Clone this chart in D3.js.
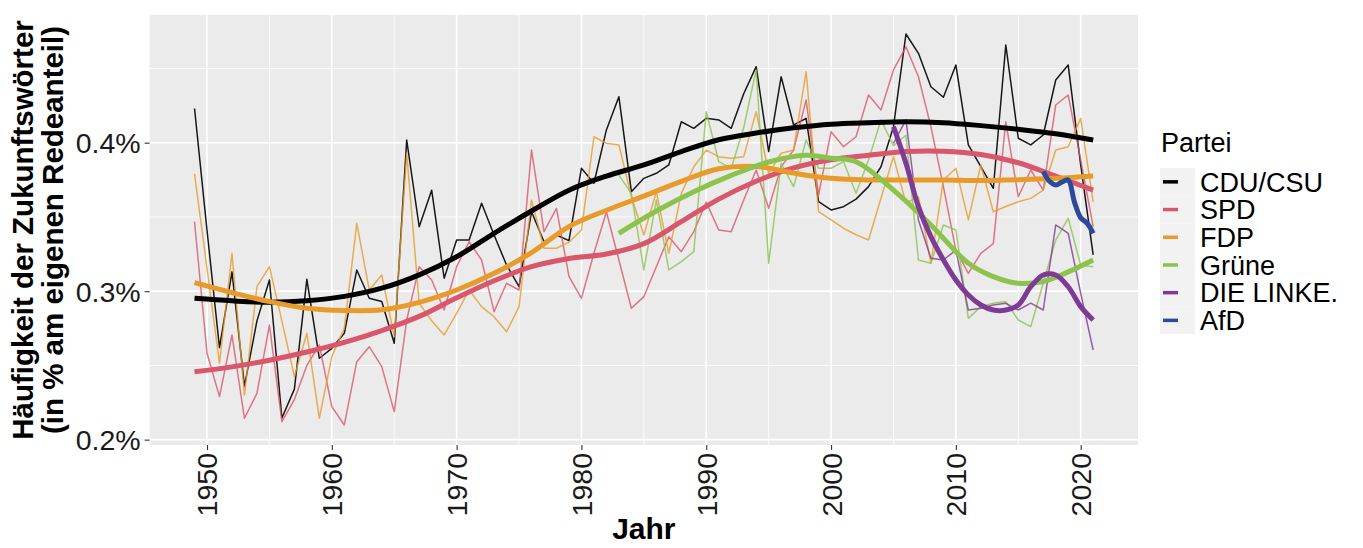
<!DOCTYPE html>
<html><head><meta charset="utf-8">
<script src="https://cdn.jsdelivr.net/npm/d3@7"></script>
<style>
body{margin:0;background:#fff}
svg{display:block}
text{font-family:"Liberation Sans",Arial,Helvetica,sans-serif}
</style>
</head><body>
<svg id="chart" width="1363" height="548"></svg>
<script>
// ---------- DATA ----------
const parties = ["CDU/CSU","SPD","FDP","Grüne","DIE LINKE.","AfD"];
const partyColors = ["#000000","#D9566B","#E89B2A","#8CC34F","#7E3A95","#2C4A9C"];
const startYears = [1949,1949,1949,1983,2005,2017];

const cduValues = [0.423,0.341,0.262,0.313,0.236,0.280,0.3075,0.2146,0.234,0.308,0.2548,0.2615,0.2716,0.3143,0.2952,0.293,0.2649,0.4018,0.3434,0.368,
0.3087,0.3345,0.3345,0.3592,0.3378,0.3176,0.303,0.3535,0.3333,0.3378,0.334,0.3828,0.3727,0.4086,0.431,0.367,0.376,0.3794,0.385,0.4141,
0.4097,0.4164,0.4153,0.4097,0.433,0.4512,0.394,0.4444,0.4119,0.4164,0.3603,0.3547,0.3569,0.362,0.3704,0.3838,0.4108,0.4732,0.4602,0.4377,
0.4306,0.4523,0.3985,0.3838,0.3693,0.4658,0.403,0.3985,0.4052,0.4422,0.4523,0.385,0.3244];
const spdValues = [0.3468,0.2582,0.229,0.2705,0.2144,0.2312,0.2772,0.2121,0.227,0.250,0.2638,0.2222,0.2099,0.2525,0.2626,0.2492,0.2189,0.2806,0.3165,0.3075,
0.2873,0.3165,0.3333,0.321,0.2862,0.3053,0.3008,0.3951,0.3401,0.3558,0.310,0.2952,0.3255,0.3535,0.321,0.2885,0.2963,0.3165,0.3367,0.3266,
0.3401,0.360,0.3412,0.3401,0.3614,0.3816,0.3558,0.3839,0.3951,0.4288,0.3648,0.4074,0.3973,0.404,0.4321,0.422,0.449,0.4646,0.4444,0.4108,
0.3704,0.3277,0.312,0.3255,0.332,0.4141,0.3636,0.3816,0.3681,0.4254,0.4321,0.3884,0.3434];
const fdpValues = [0.379,0.3154,0.2514,0.3255,0.230,0.303,0.3165,0.280,0.2424,0.2716,0.2144,0.2559,0.275,0.3457,0.3008,0.3109,0.2694,0.3929,0.2919,0.280,
0.2705,0.2851,0.3008,0.2896,0.2828,0.2727,0.2896,0.3614,0.3289,0.3289,0.333,0.3412,0.404,0.3996,0.3985,0.3636,0.3378,0.367,0.3255,0.3659,
0.3838,0.395,0.3906,0.3895,0.3906,0.4209,0.3794,0.3929,0.3951,0.4478,0.3535,0.348,0.3424,0.338,0.3345,0.3626,0.3906,0.3592,0.3636,0.3188,
0.3749,0.3828,0.348,0.385,0.3535,0.357,0.3602,0.3625,0.3681,0.3951,0.3973,0.4164,0.3602];
const grueneValues = [0.3782,0.3659,0.3143,0.3614,0.3143,0.3199,0.3266,0.4209,0.3872,0.3828,0.410,0.449,0.3188,0.3861,0.3704,0.4018,0.3828,0.3828,0.3872,0.366,
0.3884,0.4153,0.398,0.405,0.321,0.3188,0.3446,0.3412,0.2817,0.2896,0.2918,0.293,0.2806,0.2761,0.3053,0.3345,0.3491,0.3176,0.3165];
const linkeValues = [0.3996,0.4153,0.348,0.3221,0.321,0.3277,0.2873,0.2885,0.2907,0.2918,0.2873,0.2919,0.2873,0.3446,0.339,0.2986,0.2604];
const afdValues = [0.3805,0.3715,0.3749,0.349,0.339];

// smoothed trend lines
const cduSmoothYears = [1949,1952,1955,1958,1961,1964,1967,1970,1973,1976,1979,1982,1985,1988,1991,1994,1997,2000,2003,2006,2009,2012,2015,2018,2021];
const cduSmooth = [0.2952,0.2935,0.2925,0.2935,0.2965,0.302,0.311,0.3232,0.339,0.354,0.368,0.3775,0.385,0.394,0.402,0.4065,0.41,0.4125,0.4135,0.4141,0.4135,0.4115,0.409,0.406,0.4018];
const spdSmoothYears = cduSmoothYears;
const spdSmooth = [0.2458,0.249,0.2535,0.259,0.2655,0.2735,0.283,0.2955,0.307,0.3165,0.322,0.325,0.332,0.3468,0.362,0.374,0.383,0.3885,0.3915,0.394,0.3942,0.392,0.3865,0.3775,0.3681];
const fdpSmoothYears = cduSmoothYears;
const fdpSmooth = [0.3057,0.299,0.293,0.2885,0.287,0.2875,0.2925,0.3008,0.312,0.326,0.3435,0.3545,0.364,0.374,0.3825,0.384,0.3795,0.376,0.3749,0.3749,0.3749,0.3745,0.375,0.376,0.3776];
const grueneSmoothYears = [1983,1986,1989,1992,1995,1998,2000,2002,2005,2008,2011,2013,2015,2017,2019,2021];
const grueneSmooth = [0.339,0.354,0.367,0.378,0.387,0.3915,0.3895,0.3872,0.3681,0.3446,0.3188,0.3098,0.3053,0.3065,0.313,0.321];
const linkeSmoothYears = [2005,2006,2007,2008,2009,2010,2011,2012,2013,2014,2015,2016,2017,2018,2019,2020,2021];
const linkeSmooth = [0.4108,0.3861,0.3569,0.3367,0.3211,0.3075,0.2974,0.2907,0.2873,0.2873,0.2907,0.303,0.3109,0.3109,0.303,0.2896,0.2806];
const afdSmoothYears = [2017,2017.5,2018,2018.5,2019,2019.5,2020,2020.5,2021];
const afdSmooth = [0.3805,0.374,0.3715,0.3735,0.3749,0.360,0.3495,0.346,0.339];

const xTicks = [1950,1960,1970,1980,1990,2000,2010,2020];
const xMinor = [1955,1965,1975,1985,1995,2005,2015];
const yTicks = [0.2,0.3,0.4];
const yMinor = [0.25,0.35,0.45];

// ---------- CHART ----------
const rawSeries = [cduValues,spdValues,fdpValues,grueneValues,linkeValues,afdValues];
const smoothYears = [cduSmoothYears,spdSmoothYears,fdpSmoothYears,grueneSmoothYears,linkeSmoothYears,afdSmoothYears];
const smoothVals = [cduSmooth,spdSmooth,fdpSmooth,grueneSmooth,linkeSmooth,afdSmooth];

const P = {l:149.6, r:1138.1, t:15, b:445};
const svg = d3.select("#chart");
const x = d3.scaleLinear().domain([1945.4, 2024.6]).range([P.l, P.r]);
const y = d3.scaleLinear().domain([0.1964, 0.486]).range([P.b, P.t]);

svg.append("rect").attr("x",P.l).attr("y",P.t).attr("width",P.r-P.l).attr("height",P.b-P.t).attr("fill","#EBEBEB");

const grid = svg.append("g");
grid.selectAll(".ym").data(yMinor).join("line").attr("x1",P.l).attr("x2",P.r)
  .attr("y1",d=>y(d)).attr("y2",d=>y(d)).attr("stroke","#fff").attr("stroke-width",0.8);
grid.selectAll(".xm").data(xMinor).join("line").attr("y1",P.t).attr("y2",P.b)
  .attr("x1",d=>x(d)).attr("x2",d=>x(d)).attr("stroke","#fff").attr("stroke-width",0.8);
grid.selectAll(".yM").data(yTicks).join("line").attr("x1",P.l).attr("x2",P.r)
  .attr("y1",d=>y(d)).attr("y2",d=>y(d)).attr("stroke","#fff").attr("stroke-width",1.6);
grid.selectAll(".xM").data(xTicks).join("line").attr("y1",P.t).attr("y2",P.b)
  .attr("x1",d=>x(d)).attr("x2",d=>x(d)).attr("stroke","#fff").attr("stroke-width",1.6);

const plot = svg.append("g");
const thinLine = d3.line().x(d=>x(d[0])).y(d=>y(d[1]));
const smoothLine = d3.line().x(d=>x(d[0])).y(d=>y(d[1])).curve(d3.curveCatmullRom.alpha(0.5));

rawSeries.forEach((vals,i)=>{
  const pts = vals.map((v,k)=>[startYears[i]+k, v]);
  plot.append("path").attr("d",thinLine(pts)).attr("fill","none")
    .attr("stroke",partyColors[i]).attr("stroke-width",1.5).attr("stroke-opacity",i===0?0.9:0.8)
    .attr("stroke-linejoin","round");
});
smoothVals.forEach((vals,i)=>{
  const pts = vals.map((v,k)=>[smoothYears[i][k], v]);
  plot.append("path").attr("d",smoothLine(pts)).attr("fill","none")
    .attr("stroke",partyColors[i]).attr("stroke-width",5)
    .attr("stroke-linecap","butt").attr("stroke-linejoin","round");
});

// axes
const xAxis = svg.append("g").attr("transform",`translate(0,${P.b})`)
  .call(d3.axisBottom(x).tickValues(xTicks).tickSize(5).tickFormat(d3.format("d")));
xAxis.select(".domain").remove();
xAxis.selectAll("line").attr("stroke","#333").attr("stroke-width",1.1);
xAxis.selectAll("text").attr("font-size",28.5).attr("fill","#1a1a1a")
  .attr("transform","rotate(-90)").attr("text-anchor","end")
  .attr("x",-8).attr("y",0).attr("dy","0.35em");

const yAxis = svg.append("g").attr("transform",`translate(${P.l},0)`)
  .call(d3.axisLeft(y).tickValues(yTicks).tickSize(5).tickFormat(d=>d3.format(".1f")(d)+"%"));
yAxis.select(".domain").remove();
yAxis.selectAll("line").attr("stroke","#333").attr("stroke-width",1.1);
yAxis.selectAll("text").attr("font-size",28.5).attr("fill","#1a1a1a").attr("x",-9).attr("dy","0.35em");

// titles
svg.append("text").attr("x",(P.l+P.r)/2).attr("y",539).attr("text-anchor","middle")
  .attr("font-size",30).attr("font-weight","bold").text("Jahr");
const yt = svg.append("text").attr("transform",`translate(0,${(P.t+P.b)/2}) rotate(-90)`)
  .attr("text-anchor","middle").attr("font-size",29.5).attr("font-weight","bold");
yt.append("tspan").attr("x",0).attr("y",33).text("Häufigkeit der Zukunftswörter");
yt.append("tspan").attr("x",0).attr("y",63).text("(in % am eigenen Redeanteil)");

// legend
const lg = svg.append("g");
lg.append("text").attr("x",1161).attr("y",152).attr("font-size",27).text("Partei");
const keyH = 27.7, key0 = 168;
parties.forEach((p,i)=>{
  const cy = key0 + keyH*i + keyH/2;
  lg.append("rect").attr("x",1160).attr("y",key0+keyH*i).attr("width",35).attr("height",keyH).attr("fill","#F2F2F2");
  lg.append("line").attr("x1",1163).attr("x2",1178).attr("y1",cy).attr("y2",cy)
    .attr("stroke",partyColors[i]).attr("stroke-width",3.5);
  lg.append("text").attr("x",1200).attr("y",cy).attr("dy","0.36em").attr("font-size",27).text(p);
});
</script>
</body></html>
